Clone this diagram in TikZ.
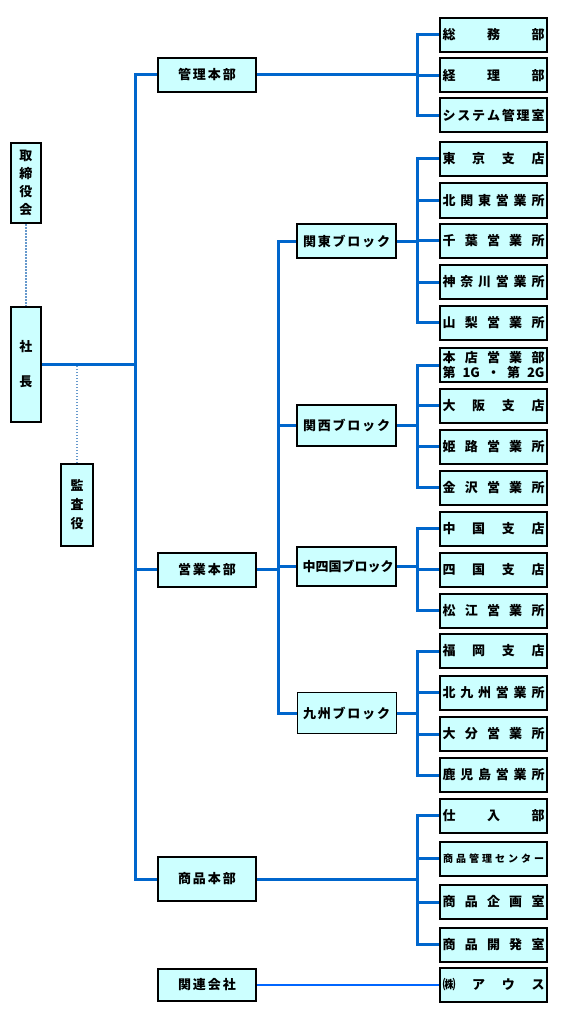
\documentclass[tikz,border=0pt]{standalone}
\usepackage{fontspec}
\setmainfont{Noto Sans CJK JP}
\usetikzlibrary{calc}
\definecolor{boxcyan}{RGB}{204,255,255}
\definecolor{linkblue}{RGB}{0,102,204}
\definecolor{linklight}{RGB}{0,102,255}
\definecolor{dotblue}{RGB}{102,153,204}
\def\sprd#1#2{\makebox[#1][s]{\sprdi#2\sprdend}}
\def\sprdi#1#2\sprdend{#1\ifx\relax#2\relax\else\hfill\sprdi#2\sprdend\fi}

\begin{document}
\begin{tikzpicture}[x=1pt, y=-1pt,
	box/.style={draw=black, line width=2pt, fill=boxcyan, inner sep=0pt, font=\bfseries\fontsize{13}{16}\selectfont},
	unit/.style={box, minimum width=107pt, minimum height=34pt},
	head/.style={box, minimum width=98pt, minimum height=34pt},
	block/.style={box, minimum width=99pt},
	link/.style={draw=linkblue, line width=3pt},
	dots/.style={draw=dotblue, line width=1.5pt, dash pattern=on 1.5pt off 1.5pt}]
			%%%%% START %%%%%
			
			\fill[white] (0,0) rectangle (562,1019);
			\useasboundingbox (0,0) rectangle (562,1019);
			
			\coordinate (trunk) at (135,0);
			\coordinate (mid) at (278,0);
			\coordinate (right) at (417,0);
			
			\node[box, minimum width=30pt, minimum height=80pt, align=center, font=\bfseries\fontsize{13}{18}\selectfont] (board) at (26,183) {取\\締\\役\\会};
			\node[box, minimum width=30pt, minimum height=115pt, align=center, font=\bfseries\fontsize{13}{35}\selectfont] (pres) at (26,364.5) {社\\長};
			\node[box, minimum width=32pt, minimum height=82pt, align=center, font=\bfseries\fontsize{13}{19}\selectfont] (audit) at (77,505) {監\\査\\役};
			
			\node[head] (kanri) at (207,75) {\sprd{58pt}{管理本部}};
			\node[head] (eigyo) at (207,569.5) {\sprd{58pt}{営業本部}};
			\node[head, minimum height=44pt] (shohin) at (207,879) {\sprd{58pt}{商品本部}};
			\node[head, minimum height=32pt] (kanren) at (207,985) {\sprd{58pt}{関連会社}};
			
			\node[block, minimum height=34pt] (kanto) at (346.5,241) {\sprd{87pt}{関東ブロック}};
			\node[block, minimum height=41pt] (kansai) at (346.5,425.5) {\sprd{87pt}{関西ブロック}};
			\node[block, minimum height=39pt] (chushikoku) at (346.5,566.5) {\sprd{88pt}{中四国ブロック}};
			\node[block, line width=1pt, minimum height=41pt] (kyushu) at (346.5,713) {\sprd{87pt}{九州ブロック}};
			
			\node[unit] (soumu) at (493.5,35) {\sprd{102pt}{総務部}};
			\node[unit] (keiri) at (493.5,75.5) {\sprd{102pt}{経理部}};
			\node[unit] (system) at (493.5,115.5) {\sprd{102pt}{システム管理室}};
			
			\node[unit] (tokyo) at (493.5,159) {\sprd{102pt}{東京支店}};
			\node[unit] (kitakanto) at (493.5,200.5) {\sprd{102pt}{北関東営業所}};
			\node[unit] (chiba) at (493.5,240.5) {\sprd{102pt}{千葉営業所}};
			\node[unit] (kanagawa) at (493.5,282) {\sprd{102pt}{神奈川営業所}};
			\node[unit] (yamanashi) at (493.5,322.5) {\sprd{102pt}{山梨営業所}};
			
			\node[unit, align=center, font=\bfseries\fontsize{13}{15}\selectfont] (honten) at (493.5,365) {\sprd{102pt}{本店営業部}\\\sprd{102pt}{第{1G}・第{2G}{}}};
			\node[unit] (osaka) at (493.5,405.5) {\sprd{102pt}{大阪支店}};
			\node[unit] (himeji) at (493.5,446.5) {\sprd{102pt}{姫路営業所}};
			\node[unit] (kanazawa) at (493.5,487.5) {\sprd{102pt}{金沢営業所}};
			
			\node[unit] (chugoku) at (493.5,528.5) {\sprd{102pt}{中国支店}};
			\node[unit] (shikoku) at (493.5,569.5) {\sprd{102pt}{四国支店}};
			\node[unit] (matsue) at (493.5,610.5) {\sprd{102pt}{松江営業所}};
			
			\node[unit] (fukuoka) at (493.5,651) {\sprd{102pt}{福岡支店}};
			\node[unit] (kitakyushu) at (493.5,692.5) {\sprd{102pt}{北九州営業所}};
			\node[unit] (oita) at (493.5,734) {\sprd{102pt}{大分営業所}};
			\node[unit] (kagoshima) at (493.5,775) {\sprd{102pt}{鹿児島営業所}};
			
			\node[unit] (shiire) at (493.5,815.5) {\sprd{102pt}{仕入部}};
			\node[unit, font=\bfseries\fontsize{10}{12}\selectfont] (shcenter) at (493.5,858.5) {\sprd{101pt}{商品管理センター}};
			\node[unit] (kikaku) at (493.5,902) {\sprd{102pt}{商品企画室}};
			\node[unit] (kaihatsu) at (493.5,944.5) {\sprd{102pt}{商品開発室}};
			
			\node[unit] (aus) at (493.5,985) {\sprd{102pt}{㈱アウス}};
			
			% dotted ties
			\draw[dots] (board.south) -- (pres.north);
			\draw[dots] (audit.north) -- (audit.north |- pres.east);
			
			% trunk
			\draw[link] (pres.east) -- (pres.east -| trunk);
			\draw[link] (kanri.west) -- (kanri.west -| trunk) -- (shohin.west -| trunk) -- (shohin.west);
			\draw[link] (eigyo.west) -- (eigyo.west -| trunk);
			
			% blocks
			\draw[link] (eigyo.east) -- (eigyo.east -| mid);
			\draw[link] (kanto.west) -- (kanto.west -| mid) -- (kyushu.west -| mid) -- (kyushu.west);
			\draw[link] (kansai.west) -- (kansai.west -| mid);
			\draw[link] (chushikoku.west) -- (chushikoku.west -| mid);
			
			% kanri
			\draw[link] (kanri.east) -- (kanri.east -| right);
			\draw[link] (soumu.west) -- (soumu.west -| right) -- (system.west -| right) -- (system.west);
			\draw[link] (keiri.west) -- (keiri.west -| right);
			
			% kanto
			\draw[link] (kanto.east) -- (kanto.east -| right);
			\draw[link] (tokyo.west) -- (tokyo.west -| right) -- (yamanashi.west -| right) -- (yamanashi.west);
			\draw[link] (kitakanto.west) -- (kitakanto.west -| right);
			\draw[link] (chiba.west) -- (chiba.west -| right);
			\draw[link] (kanagawa.west) -- (kanagawa.west -| right);
			
			% kansai
			\draw[link] (kansai.east) -- (kansai.east -| right);
			\draw[link] (honten.west) -- (honten.west -| right) -- (kanazawa.west -| right) -- (kanazawa.west);
			\draw[link] (osaka.west) -- (osaka.west -| right);
			\draw[link] (himeji.west) -- (himeji.west -| right);
			
			% chushikoku
			\draw[link] (chushikoku.east) -- (chushikoku.east -| right);
			\draw[link] (chugoku.west) -- (chugoku.west -| right) -- (matsue.west -| right) -- (matsue.west);
			\draw[link] (shikoku.west) -- (shikoku.west -| right);
			
			% kyushu
			\draw[link] (kyushu.east) -- (kyushu.east -| right);
			\draw[link] (fukuoka.west) -- (fukuoka.west -| right) -- (kagoshima.west -| right) -- (kagoshima.west);
			\draw[link] (kitakyushu.west) -- (kitakyushu.west -| right);
			\draw[link] (oita.west) -- (oita.west -| right);
			
			% shohin
			\draw[link] (shohin.east) -- (shohin.east -| right);
			\draw[link] (shiire.west) -- (shiire.west -| right) -- (kaihatsu.west -| right) -- (kaihatsu.west);
			\draw[link] (shcenter.west) -- (shcenter.west -| right);
			\draw[link] (kikaku.west) -- (kikaku.west -| right);
			
			% kanren
			\draw[draw=linklight, line width=2pt] (kanren.east) -- (aus.west);
			
			%%%%% END %%%%%
\end{tikzpicture}
\end{document}
